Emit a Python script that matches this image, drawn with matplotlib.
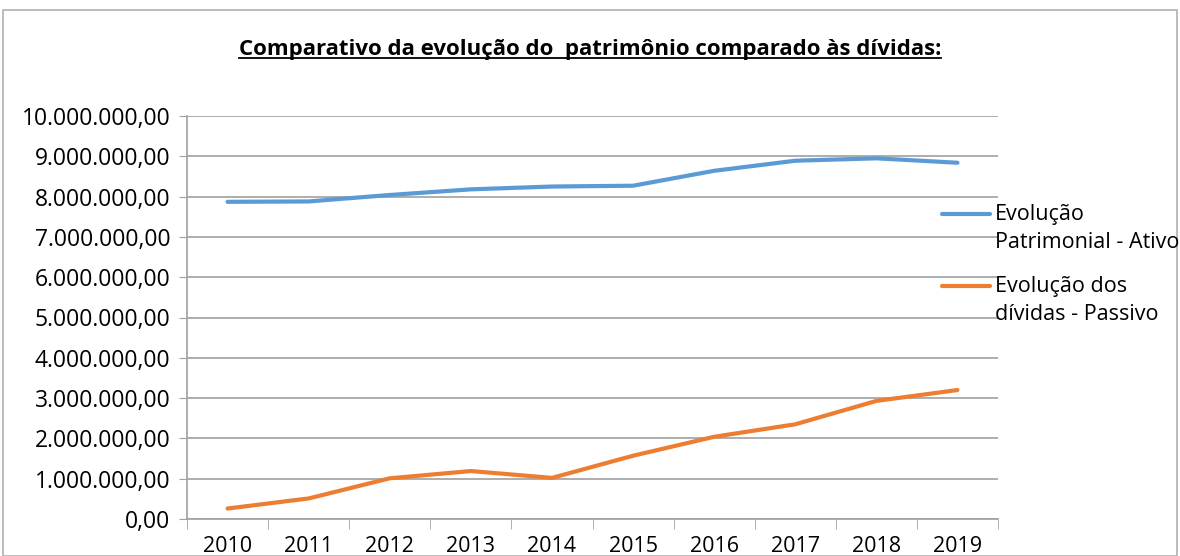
import numpy as np
import matplotlib.pyplot as plt
from matplotlib.ticker import FuncFormatter

anos = ['2010', '2011', '2012', '2013', '2014', '2015', '2016', '2017', '2018', '2019']
ativo = [7.87e6, 7.88e6, 8.04e6, 8.18e6, 8.25e6, 8.27e6, 8.64e6, 8.89e6, 8.95e6, 8.84e6]
passivo = [0.26e6, 0.51e6, 1.01e6, 1.19e6, 1.02e6, 1.57e6, 2.04e6, 2.35e6, 2.93e6, 3.20e6]
rotulos = ['Evolução\nPatrimonial - Ativo', 'Evolução dos\ndívidas - Passivo']
cores = ['#5b9bd5', '#ed7d31']
titulo = 'Comparativo da evolução do  patrimônio comparado às dívidas:'

plt.rcParams['font.family'] = ['Open Sans', 'DejaVu Sans']

fig = plt.figure(figsize=(11.8, 5.56), dpi=100)
ax = fig.add_axes([187/1180, 1 - 519/556, (998-187)/1180, (519-116)/556])

x = np.arange(len(anos))
ax.plot(x, ativo, color=cores[0], lw=3, solid_capstyle='round')
ax.plot(x, passivo, color=cores[1], lw=3, solid_capstyle='round')

ax.set_xlim(-0.5, len(anos) - 0.5)
ax.set_ylim(0, 10e6)
ax.set_yticks(np.arange(0, 10.5e6, 1e6))
ax.yaxis.set_major_formatter(FuncFormatter(
    lambda v, p: f'{v:,.2f}'.replace(',', 'X').replace('.', ',').replace('X', '.')))
ax.set_xticks(x)
ax.set_xticklabels(anos)
ax.set_xticks(np.arange(-0.5, len(anos)), minor=True)
ax.tick_params(axis='x', which='major', length=0, pad=12, labelsize=15.5)
ax.tick_params(axis='x', which='minor', length=7, color='#a0a0a0', direction='out')
ax.tick_params(axis='y', length=6, color='#a0a0a0', labelsize=16.5, pad=6)
ax.grid(axis='y', color='#a0a0a0', lw=1.2)
for s in ['top', 'right']:
    ax.spines[s].set_visible(False)
for s in ['left', 'bottom']:
    ax.spines[s].set_color('#a0a0a0')
    ax.spines[s].set_linewidth(1.2)

# legenda manual (linha alinhada com a primeira linha do texto)
for i, (rot, cor) in enumerate(zip(rotulos, cores)):
    yl = 1 - (214 + 72 * i) / 556
    fig.add_artist(plt.Line2D([942/1180, 990/1180], [yl, yl], transform=fig.transFigure,
                              color=cor, lw=3, solid_capstyle='round'))
    fig.text(995/1180, yl + 10/556, rot, ha='left', va='top', fontsize=15.5,
             linespacing=1.45)

t = fig.text(0.5, 1 - 49/556, titulo, ha='center', va='center',
             fontsize=16, fontweight='bold')
fig.canvas.draw()
bb = t.get_window_extent().transformed(fig.transFigure.inverted())
fig.add_artist(plt.Line2D([bb.x0, bb.x1], [bb.y0 + 0.002, bb.y0 + 0.002],
                          transform=fig.transFigure, color='black', lw=1.3))

fig.add_artist(plt.Rectangle((3/1180, 0), 1174/1180, 1 - 10/556, transform=fig.transFigure,
                             fill=False, edgecolor='#b0b0b0', lw=1.2))

fig.savefig('out.png', dpi=100)
